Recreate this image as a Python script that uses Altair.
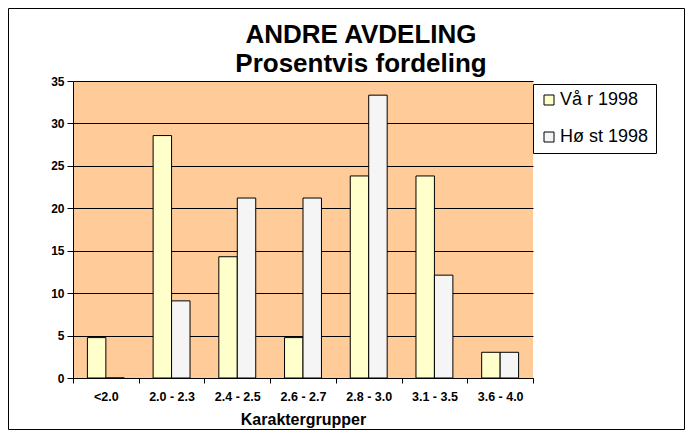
import altair as alt
import pandas as pd

# ---- data ----
categories = ["<2.0", "2.0 - 2.3", "2.4 - 2.5", "2.6 - 2.7", "2.8 - 3.0", "3.1 - 3.5", "3.6 - 4.0"]
series = ["Vå r 1998", "Hø st 1998"]
var_1998 = [4.76, 28.57, 14.29, 4.76, 23.81, 23.81, 3.03]
host_1998 = [0.0, 9.09, 21.21, 21.21, 33.33, 12.12, 3.03]
y_ticks = [0, 5, 10, 15, 20, 25, 30, 35]
title_lines = ["ANDRE AVDELING", "Prosentvis fordeling"]
x_title = "Karaktergrupper"
colors = ["#FFFFCC", "#F5F5F5"]

FONT = "Liberation Sans"

rows = []
for c, v, h in zip(categories, var_1998, host_1998):
    rows.append({"gruppe": c, "serie": series[0], "prosent": v})
    rows.append({"gruppe": c, "serie": series[1], "prosent": h})
df = pd.DataFrame(rows)

W, H = 460, 297
PAD = {"left": 65, "top": 73, "right": 152, "bottom": 52}

bars = alt.Chart(df).mark_bar(stroke="black", strokeWidth=1, opacity=1).encode(
    x=alt.X(
        "gruppe:N",
        sort=categories,
        scale=alt.Scale(paddingInner=0, paddingOuter=0),
        axis=alt.Axis(
            title=x_title,
            labelAngle=0,
            tickBand="extent",
            labelFont=FONT,
            labelFontSize=12.5,
            labelFontWeight="bold",
            labelColor="black",
            labelPadding=7,
            labelOverlap=False,
            domainColor="black",
            tickColor="black",
            tickSize=5,
            grid=False,
            titleFont=FONT,
            titleFontSize=16,
            titleFontWeight="bold",
            titleColor="black",
            titleBaseline="alphabetic",
            titleY=46,
        ),
    ),
    xOffset=alt.XOffset(
        "serie:N", sort=series, scale=alt.Scale(paddingInner=0, paddingOuter=0.78)
    ),
    y=alt.Y(
        "prosent:Q",
        scale=alt.Scale(domain=[0, 35], nice=False),
        axis=alt.Axis(
            values=y_ticks,
            title=None,
            labelFont=FONT,
            labelFontSize=12,
            labelFontWeight="bold",
            labelColor="black",
            labelPadding=3,
            tickSize=6,
            tickColor="black",
            domainColor="black",
            grid=True,
            gridColor="black",
            gridOpacity=1,
            gridWidth=1,
        ),
    ),
    color=alt.Color(
        "serie:N",
        sort=series,
        scale=alt.Scale(domain=series, range=colors),
        legend=alt.Legend(
            orient="none",
            legendX=460,
            legendY=3,
            title=None,
            fillColor="white",
            strokeColor="black",
            padding=7,
            labelFont=FONT,
            labelFontSize=18,
            labelColor="black",
            labelOffset=2,
            symbolType="square",
            symbolSize=100,
            symbolStrokeColor="black",
            symbolStrokeWidth=1,
            symbolOpacity=1,
            rowPadding=19,
        ),
    ),
)

one = pd.DataFrame({"k": [0]})

title_layers = []
for i, line in enumerate(title_lines):
    title_layers.append(
        alt.Chart(one).mark_text(
            text=line,
            font=FONT,
            fontSize=26,
            fontWeight="bold",
            color="black",
            align="center",
            baseline="alphabetic",
        ).encode(x=alt.value(288), y=alt.value(-38 + 29 * i))
    )

border = alt.Chart(one).mark_rect(
    fillOpacity=0, stroke="black", strokeWidth=1
).encode(
    x=alt.value(-PAD["left"] + 0.5),
    x2=alt.value(W + PAD["right"] - 0.5),
    y=alt.value(-PAD["top"] + 0.5),
    y2=alt.value(H + PAD["bottom"] - 0.5),
)

chart = alt.layer(bars, *title_layers, border).properties(
    width=W,
    height=H,
    autosize=alt.AutoSizeParams(type="none"),
    padding=PAD,
    background="white",
).configure_view(fill="#FFCC99", strokeWidth=0)

chart.save("out.html", embed_options={"renderer": "svg", "actions": False})
